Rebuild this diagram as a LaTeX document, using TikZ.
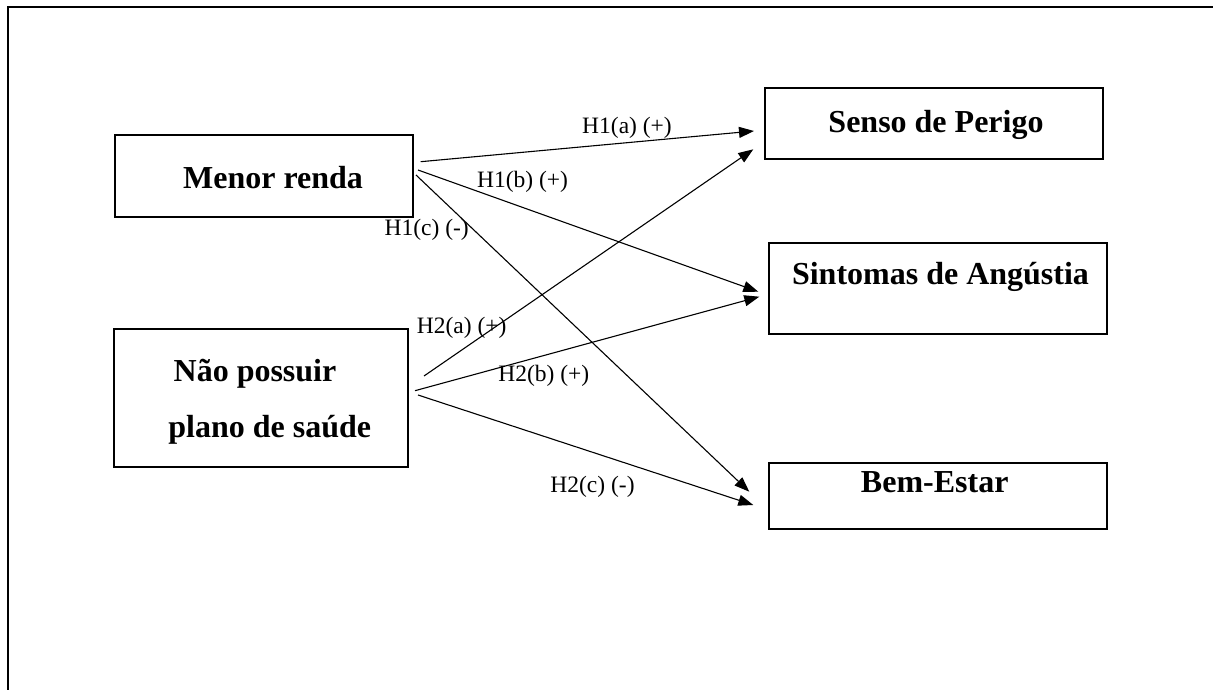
\documentclass[tikz,border=0pt]{standalone}
\usepackage{fontspec}
\setmainfont{Liberation Serif}
\usetikzlibrary{arrows.meta}
\begin{document}
\begin{tikzpicture}[x=1pt,y=-1pt,
  boxnode/.style={draw=black,line width=2pt,rectangle,inner sep=0pt},
  boxtext/.style={anchor=base,inner sep=0pt,font=\fontsize{32}{36}\selectfont\bfseries},
  hyplabel/.style={anchor=base,inner sep=0pt,font=\fontsize{23.5}{27}\selectfont},
  hyparrow/.style={line width=1.1pt,-{Triangle[length=15pt,width=11pt]}}]
\useasboundingbox (0,0) rectangle (1213,690);
\clip (0,0) rectangle (1213,690);
% outer frame
\draw[line width=2pt] (7.5,700) -- (7.5,7) -- (1213,7);
% boxes
\node[boxnode,minimum width=298pt,minimum height=82pt] (mr) at (264,176) {};
\node[boxnode,minimum width=294pt,minimum height=138pt] (np) at (261,398) {};
\node[boxnode,minimum width=338pt,minimum height=71pt] (sp) at (934,123.8) {};
\node[boxnode,minimum width=337.4pt,minimum height=91.3pt] (sa) at (938,288.3) {};
\node[boxnode,minimum width=337.7pt,minimum height=66.3pt] (be) at (937.8,495.8) {};
% box texts
\node[boxtext] (mrt) at (273,188.3) {Menor renda};
\node[boxtext] (npt1) at (255,381.7) {Não possuir};
\node[boxtext] (npt2) at (269.7,437) {plano de saúde};
\node[boxtext] (spt) at (936,133) {Senso de Perigo};
\node[boxtext] (sat) at (940.5,284.3) {Sintomas de Angústia};
\node[boxtext] (bet) at (934.7,492.7) {Bem-Estar};
% arrow end points
\coordinate (h1as) at (420.7,161.7);
\coordinate (h1ae) at (754,131);
\coordinate (h1bs) at (418,170);
\coordinate (h1be) at (758.3,291.7);
\coordinate (h1cs) at (416,175);
\coordinate (h1ce) at (749.3,491.7);
\coordinate (h2as) at (424,376);
\coordinate (h2ae) at (753.3,149.3);
\coordinate (h2bs) at (415,390.7);
\coordinate (h2be) at (759.3,296.7);
\coordinate (h2cs) at (418,395);
\coordinate (h2ce) at (753.3,505);
% arrows
\draw[hyparrow] (h1as) -- (h1ae);
\draw[hyparrow] (h1bs) -- (h1be);
\draw[hyparrow] (h1cs) -- (h1ce);
\draw[hyparrow] (h2as) -- (h2ae);
\draw[hyparrow] (h2bs) -- (h2be);
\draw[hyparrow] (h2cs) -- (h2ce);
% labels
\node[hyplabel] (l1a) at (627,133.3) {H1(a) (+)};
\node[hyplabel] (l1b) at (522.5,187.3) {H1(b) (+)};
\node[hyplabel] (l1c) at (426.7,235) {H1(c) (-)};
\node[hyplabel] (l2a) at (461.7,333.3) {H2(a) (+)};
\node[hyplabel] (l2b) at (543.8,381.7) {H2(b) (+)};
\node[hyplabel] (l2c) at (592.5,492.7) {H2(c) (-)};
\end{tikzpicture}
\end{document}
